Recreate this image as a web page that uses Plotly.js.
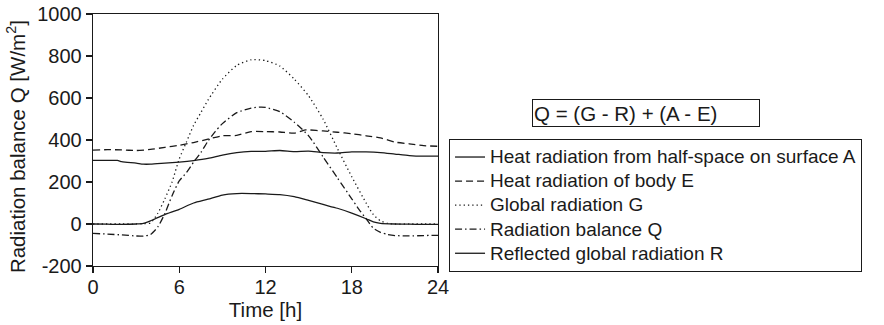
<!DOCTYPE html>
<html>
<head>
<meta charset="utf-8">
<script src="https://cdn.plot.ly/plotly-3.0.1.min.js"></script>
<style>html,body{margin:0;padding:0;background:#fff}#chart{width:884px;height:325px}</style>
</head>
<body>
<div id="chart"></div>
<script>
// Heat radiation from half-space on surface A
var hoursA = [0, 1, 1.7, 2, 3, 3.5, 4, 5, 6, 7, 8, 9, 10, 11, 12, 13, 14, 15, 16, 17, 18, 19, 20, 21, 22, 23, 24];
var valuesA = [303, 303, 303, 297, 290, 285, 285, 290, 295, 302, 312, 328, 340, 346, 346, 350, 345, 347, 340, 338, 343, 343, 340, 333, 326, 323, 323];
// Heat radiation of body E
var hoursE = [0, 1, 2, 3, 4, 5, 6, 7, 8, 9, 10, 11, 12, 13, 14, 14.8, 15, 16, 17, 18, 19, 20, 21, 22, 23, 24];
var valuesE = [352, 354, 353, 350, 355, 365, 375, 388, 404, 420, 422, 440, 440, 438, 433, 448, 448, 443, 437, 430, 420, 410, 390, 382, 373, 370];
// Global radiation G
var hoursG = [0, 1, 2, 3, 3.5, 4, 4.5, 5, 5.5, 6, 6.5, 7, 7.5, 8, 9, 10, 11, 12, 13, 14, 15, 16, 17, 18, 19, 19.5, 20, 20.5, 21, 22, 23, 24];
var valuesG = [0, 0, 0, 0, 2, 5, 50, 120, 200, 310, 390, 470, 530, 590, 690, 755, 782, 778, 752, 690, 610, 500, 360, 225, 100, 45, 15, 3, 0, 0, 0, 0];
// Radiation balance Q
var hoursQ = [0, 1, 2, 3, 3.5, 4, 4.5, 5, 5.5, 6, 6.5, 7, 7.5, 8, 8.5, 9, 10, 11, 11.7, 12, 13, 14, 15, 16, 17, 18, 18.5, 19, 19.5, 20, 20.5, 21, 22, 23, 24];
var valuesQ = [-45, -48, -52, -57, -58, -50, -15, 50, 135, 205, 245, 295, 340, 395, 440, 478, 530, 552, 557, 555, 535, 485, 420, 320, 220, 120, 70, 25, -20, -40, -50, -55, -57, -55, -54];
// Reflected global radiation R
var hoursR = [0, 1, 2, 3, 3.5, 4, 4.5, 5, 6, 7, 8, 9, 10, 11, 12, 13, 14, 15, 16, 17, 18, 19, 19.5, 20, 21, 22, 23, 24];
var valuesR = [0, -1, -2, 0, 3, 15, 30, 45, 70, 100, 118, 138, 145, 145, 143, 140, 130, 112, 93, 75, 52, 25, 10, 3, 0, -1, -2, -2];

var seriesNames = ['Heat radiation from half-space on surface A', 'Heat radiation of body E', 'Global radiation G', 'Radiation balance Q', 'Reflected global radiation R'];
var xTicks = [0, 6, 12, 18, 24];
var yTicks = [-200, 0, 200, 400, 600, 800, 1000];
var formulaText = 'Q = (G - R) + (A - E)';
var yTitle = 'Radiation balance Q [W/m<sup>2</sup>]';
var xTitle = 'Time [h]';

var col = '#1a1a1a';
function tr(x, y, name, dash) {
  return {x: x, y: y, name: '<span style="font-size:19px">' + name + '</span>', type: 'scatter', mode: 'lines',
    line: {color: col, width: 1.3, dash: dash, shape: 'spline', smoothing: 0.6}};
}
var data = [
  tr(hoursA, valuesA, seriesNames[0], 'solid'),
  tr(hoursE, valuesE, seriesNames[1], '7px,4px'),
  tr(hoursG, valuesG, seriesNames[2], '1.3px,3px'),
  tr(hoursQ, valuesQ, seriesNames[3], '7px,3px,1.5px,3px'),
  tr(hoursR, valuesR, seriesNames[4], 'solid')
];

var fontFam = '"Liberation Sans", Arial, Helvetica, sans-serif';
var layout = {
  width: 884, height: 325,
  margin: {l: 93, r: 446, t: 14, b: 59},
  paper_bgcolor: '#fff', plot_bgcolor: '#fff',
  font: {family: fontFam, color: col, size: 20},
  showlegend: true,
  legend: {
    x: 1.032, xanchor: 'left', y: 0.504, yanchor: 'top',
    bordercolor: col, borderwidth: 1, bgcolor: '#fff',
    font: {family: fontFam, size: 16.2, color: col},
    tracegroupgap: 0, itemwidth: 30,
    entrywidth: 440, entrywidthmode: 'pixels'
  },
  xaxis: {
    range: [0, 24], tickvals: xTicks, ticktext: xTicks.map(String),
    showgrid: false, zeroline: false, showline: true, linecolor: col, linewidth: 1.3, mirror: true,
    ticks: 'outside', ticklen: 6, tickwidth: 1.3, tickcolor: col, ticklabelstandoff: -3,
    tickfont: {size: 20}, title: {text: xTitle, font: {size: 20.5}, standoff: 4}
  },
  yaxis: {
    range: [-200, 1000], tickvals: yTicks, ticktext: yTicks.map(String),
    showgrid: false, zeroline: false, showline: true, linecolor: col, linewidth: 1.3, mirror: true,
    ticks: 'outside', ticklen: 6, tickwidth: 1.3, tickcolor: col,
    tickfont: {size: 20}
  },
  annotations: [{
    xref: 'paper', yref: 'paper', x: -0.223, y: 0.472, xanchor: 'center', yanchor: 'middle',
    text: yTitle, textangle: -90, showarrow: false,
    font: {family: fontFam, size: 20.5, color: col}
  }, {
    xref: 'paper', yref: 'paper', x: 1.603, y: 0.607, xanchor: 'center', yanchor: 'middle',
    text: formulaText, showarrow: false, align: 'left',
    width: 224, height: 24, bordercolor: col, borderwidth: 1, borderpad: 1,
    font: {family: fontFam, size: 20.5, color: col}
  }]
};
Plotly.newPlot('chart', data, layout, {staticPlot: true});
</script>
</body>
</html>
